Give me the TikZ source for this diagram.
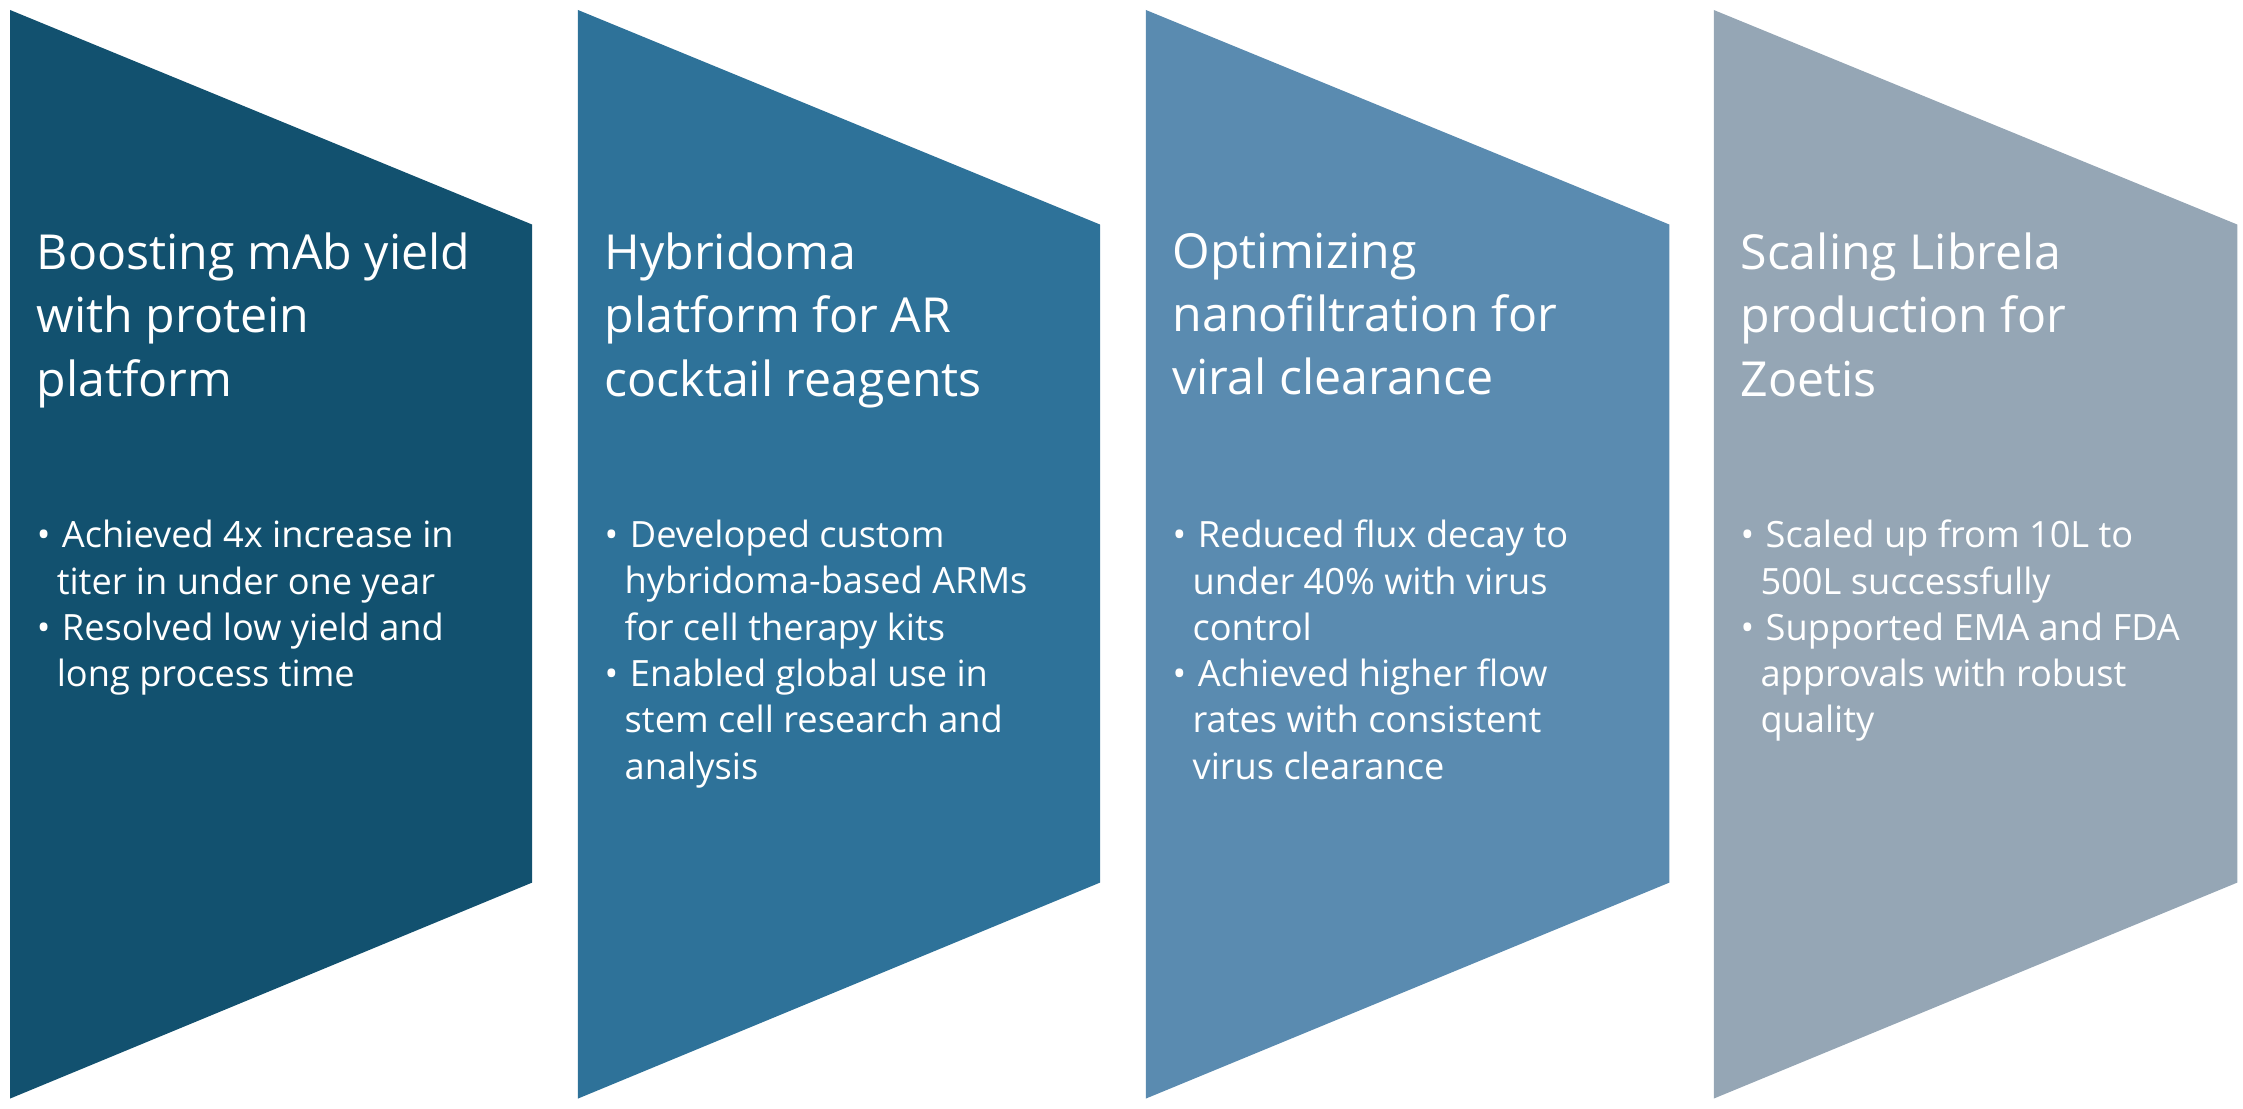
\documentclass[tikz,border=0pt]{standalone}
\usepackage{fontspec}
\setmainfont{Open Sans}
\definecolor{stepA}{HTML}{12516F}
\definecolor{stepB}{HTML}{2E7299}
\definecolor{stepC}{HTML}{5A8BB0}
\definecolor{stepD}{HTML}{95A6B5}
\tikzset{
    title/.style={anchor=north west, text=white, align=left,
        inner sep=0pt, font=\fontsize{9.6pt}{12.6pt}\selectfont},
    points/.style={anchor=north west, text=white, align=left,
        inner sep=0pt, font=\fontsize{7.2pt}{9.2pt}\selectfont},
}
\newcommand{\pt}{\textbullet\hspace{0.6ex}}
\newcommand{\ind}{\hspace*{0.14cm}}
\begin{document}
\begin{tikzpicture}
    \useasboundingbox (0,0) rectangle (15.68,7.75);

    % Chevrons
    \fill[stepA] (0.07,7.68) -- (3.72,6.18) -- (3.72,1.58) -- (0.07,0.07) -- cycle;
    \fill[stepB] (4.04,7.68) -- (7.69,6.18) -- (7.69,1.58) -- (4.04,0.07) -- cycle;
    \fill[stepC] (8.01,7.68) -- (11.67,6.18) -- (11.67,1.58) -- (8.01,0.07) -- cycle;
    \fill[stepD] (11.98,7.68) -- (15.64,6.18) -- (15.64,1.58) -- (11.98,0.07) -- cycle;

    % Titles
    \node[title] (t1) at (0.25,6.13) {Boosting mAb yield\\with protein\\platform};
    \node[title] (t2) at (4.22,6.13) {Hybridoma\\platform for AR\\cocktail reagents};
    \node[title] (t3) at (8.19,6.13) {Optimizing\\nanofiltration for\\viral clearance};
    \node[title] (t4) at (12.16,6.13) {Scaling Librela\\production for\\Zoetis};

    % Bullets
    \node[points] (p1) at (0.25,4.12) {\pt Achieved 4x increase in\\\ind titer in under one year\\
        \pt Resolved low yield and\\\ind long process time};
    \node[points] (p2) at (4.22,4.12) {\pt Developed custom\\\ind hybridoma-based ARMs\\\ind for cell therapy kits\\
        \pt Enabled global use in\\\ind stem cell research and\\\ind analysis};
    \node[points] (p3) at (8.19,4.12) {\pt Reduced flux decay to\\\ind under 40\% with virus\\\ind control\\
        \pt Achieved higher flow\\\ind rates with consistent\\\ind virus clearance};
    \node[points] (p4) at (12.16,4.12) {\pt Scaled up from 10L to\\\ind 500L successfully\\
        \pt Supported EMA and FDA\\\ind approvals with robust\\\ind quality};
\end{tikzpicture}
\end{document}
